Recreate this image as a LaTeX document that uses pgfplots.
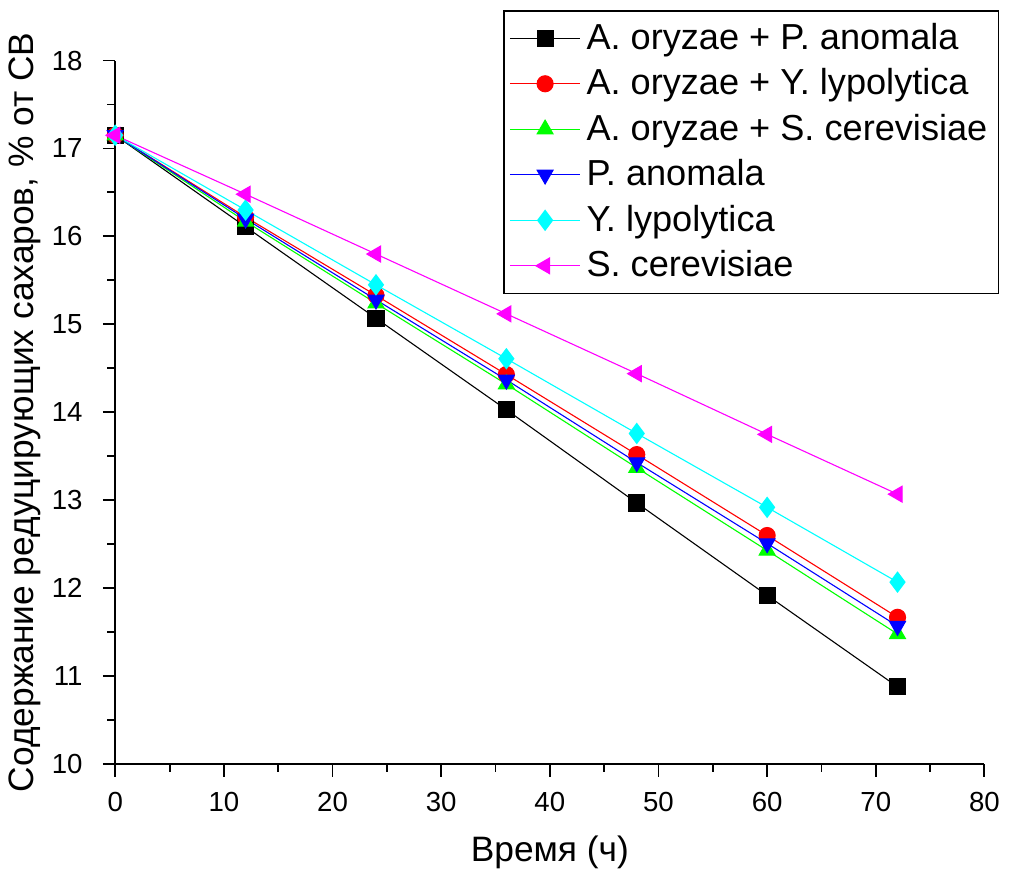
\documentclass[border=0pt]{standalone}
\usepackage{fontspec}
\setmainfont{Liberation Sans}
\usepackage{pgfplots}
\pgfplotsset{compat=1.18}
\definecolor{cgreen}{RGB}{0,255,0}
\definecolor{ccyan}{RGB}{0,255,255}
\definecolor{cmag}{RGB}{255,0,255}
\begin{document}
\begin{tikzpicture}
\begin{axis}[
  scale only axis,
  width=315pt, height=255pt,
  xmin=0, xmax=80, ymin=10, ymax=18,
  axis x line*=bottom, axis y line*=left,
  axis line style={line width=0.8pt},
  xtick={0,10,...,80}, ytick={10,11,...,18},
  minor x tick num=1, minor y tick num=1,
  tick align=outside,
  major tick length=4.5pt, minor tick length=2.8pt,
  tick style={line width=0.7pt, black},
  /pgf/number format/assume math mode=true,
  tick label style={font=\fontsize{10}{12}\selectfont},
  xticklabel style={yshift=-2pt},
  yticklabel style={xshift=-3.8pt},
  xlabel={Время (ч)},
  ylabel={Содержание редуцирующих сахаров, \% от СВ},
  label style={font=\fontsize{12.8}{14}\selectfont},
  xlabel style={yshift=-2pt},
  ylabel style={yshift=-3pt},
  clip=false,
  legend style={at={(1.017,1.072)}, anchor=north east, draw=black, line width=0.6pt,
    font=\fontsize{13.1}{15}\selectfont, row sep=1.5pt, inner xsep=2pt, inner ysep=2.5pt,
    /tikz/every even column/.append style={column sep=2pt}},
  legend cell align=left,
  legend image code/.code={\draw[#1, line width=0.4pt] (0cm,0cm) -- (0.9cm,0cm);
     \draw[#1, line width=0.4pt] plot coordinates {(0.45cm,0cm)};},
  every axis plot/.append style={line width=0.4pt, mark size=2.9pt},
]
\path (rel axis cs:-0.131,1.086) (rel axis cs:1.0217,-0.154);
\addplot[black, mark=square*, mark options={fill=black}] coordinates {
 (0,17.15) (12,16.11) (24,15.07) (36,14.03) (48,12.97) (60,11.92) (72,10.88)};
\addlegendentry{A. oryzae + P. anomala}
\addplot[red, mark=*, mark options={fill=red}] coordinates {
 (0,17.15) (12,16.22) (24,15.33) (36,14.43) (48,13.52) (60,12.60) (72,11.67)};
\addlegendentry{A. oryzae + Y. lypolytica}
\addplot[cgreen, mark=triangle*, mark options={fill=cgreen}, mark size=3.3pt] coordinates {
 (0,17.15) (12,16.17) (24,15.24) (36,14.32) (48,13.37) (60,12.43) (72,11.48)};
\addlegendentry{A. oryzae + S. cerevisiae}
\addplot[blue, mark=triangle*, mark options={fill=blue, rotate=180}, mark size=3.3pt] coordinates {
 (0,17.15) (12,16.20) (24,15.28) (36,14.37) (48,13.43) (60,12.51) (72,11.57)};
\addlegendentry{P. anomala}
\addplot[ccyan, mark=diamond*, mark options={fill=ccyan}, mark size=3.6pt] coordinates {
 (0,17.15) (12,16.30) (24,15.45) (36,14.61) (48,13.76) (60,12.92) (72,12.07)};
\addlegendentry{Y. lypolytica}
\addplot[cmag, mark=triangle*, mark options={fill=cmag, rotate=90}, mark size=3.3pt] coordinates {
 (0,17.15) (12,16.48) (24,15.80) (36,15.12) (48,14.44) (60,13.75) (72,13.07)};
\addlegendentry{S. cerevisiae}
\end{axis}
\end{tikzpicture}
\end{document}
